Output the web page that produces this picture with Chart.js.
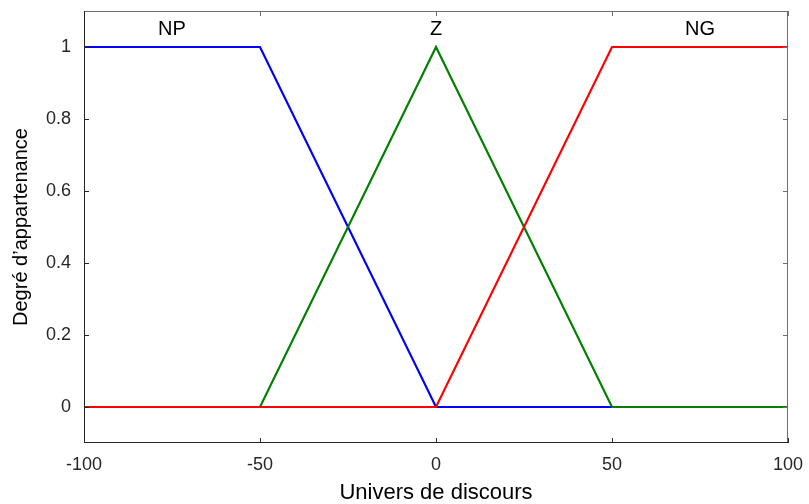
<!DOCTYPE html>
<html>
<head>
<meta charset="utf-8">
<script src="https://cdn.jsdelivr.net/npm/chart.js@4.4.1/dist/chart.umd.min.js"></script>
<style>
  html, body { margin: 0; padding: 0; background: #ffffff; }
  #wrap { width: 809px; height: 504px; }
</style>
</head>
<body>
<div id="wrap"><canvas id="c" width="809" height="504"></canvas></div>
<script>
// Membership functions of the three fuzzy sets (breakpoints)
const npX = [-100, -50, 0, 100];
const npY = [1, 1, 0, 0];
const zX = [-100, -50, 0, 50, 100];
const zY = [0, 0, 1, 0, 0];
const ngX = [-100, 0, 50, 100];
const ngY = [0, 0, 1, 1];

const setNames = ['NP', 'Z', 'NG'];
const setLabelX = [-75, 0, 75];
const setLabelY = 1.05;

const xTicks = [-100, -50, 0, 50, 100];
const yTicks = [0, 0.2, 0.4, 0.6, 0.8, 1];

const xTitle = 'Univers de discours';
const yTitle = 'Degré d\u2019appartenance';

const pts = (xs, ys) => xs.map((x, i) => ({ x: x, y: ys[i] }));

const FONT = '"Liberation Sans", Arial, sans-serif';
const AXIS = '#262626';

// Frame with inward ticks on all four sides, set names and axis titles
const framePlugin = {
  id: 'frame',
  afterDraw(chart) {
    const { ctx, chartArea: a, scales } = chart;
    const xs = scales.x, ys = scales.y;
    const L = 5;
    ctx.save();
    ctx.lineWidth = 1;
    // top and right edges
    ctx.strokeStyle = '#6e6e6e';
    ctx.beginPath();
    ctx.moveTo(a.left, a.top + 0.5); ctx.lineTo(a.right, a.top + 0.5);
    ctx.moveTo(a.right - 0.5, a.top); ctx.lineTo(a.right - 0.5, a.bottom);
    xTicks.forEach(v => {
      const px = Math.round(xs.getPixelForValue(v)) + 0.5;
      ctx.moveTo(px, a.top); ctx.lineTo(px, a.top + L);
    });
    yTicks.forEach(v => {
      const py = Math.round(ys.getPixelForValue(v)) + 0.5;
      ctx.moveTo(a.right, py); ctx.lineTo(a.right - L, py);
    });
    ctx.stroke();
    // left and bottom edges
    ctx.strokeStyle = AXIS;
    ctx.beginPath();
    ctx.moveTo(a.left + 0.5, a.top); ctx.lineTo(a.left + 0.5, a.bottom);
    ctx.moveTo(a.left, a.bottom - 0.5); ctx.lineTo(a.right, a.bottom - 0.5);
    xTicks.forEach(v => {
      const px = Math.round(xs.getPixelForValue(v)) + 0.5;
      ctx.moveTo(px, a.bottom); ctx.lineTo(px, a.bottom - L);
    });
    yTicks.forEach(v => {
      const py = Math.round(ys.getPixelForValue(v)) + 0.5;
      ctx.moveTo(a.left, py); ctx.lineTo(a.left + L, py);
    });
    ctx.stroke();
    // set names
    ctx.fillStyle = '#000000';
    ctx.font = '20px ' + FONT;
    ctx.textAlign = 'center';
    ctx.textBaseline = 'middle';
    setNames.forEach((n, i) => {
      ctx.fillText(n, xs.getPixelForValue(setLabelX[i]), ys.getPixelForValue(setLabelY));
    });
    // axis titles
    ctx.font = '22px ' + FONT;
    ctx.textBaseline = 'alphabetic';
    ctx.fillText(xTitle, (a.left + a.right) / 2, 499);
    ctx.font = '20px ' + FONT;
    ctx.translate(27, (a.top + a.bottom) / 2);
    ctx.rotate(-Math.PI / 2);
    ctx.fillText(yTitle, 0, 0);
    ctx.restore();
  }
};

new Chart(document.getElementById('c'), {
  type: 'line',
  data: {
    datasets: [
      // red drawn on top, then green, then blue underneath
      { label: 'NP', data: pts(npX, npY), borderColor: '#0000ff', borderWidth: 2.2, order: 2 },
      { label: 'Z', data: pts(zX, zY), borderColor: '#008000', borderWidth: 2.2, order: 1 },
      { label: 'NG', data: pts(ngX, ngY), borderColor: '#ff0000', borderWidth: 2.2, order: 0 }
    ]
  },
  options: {
    responsive: false,
    animation: false,
    devicePixelRatio: 1,
    layout: { padding: { top: 11, right: 21, left: 0, bottom: 0 } },
    elements: { point: { radius: 0 }, line: { tension: 0, fill: false } },
    plugins: { legend: { display: false }, tooltip: { enabled: false } },
    scales: {
      x: {
        type: 'linear',
        min: -100, max: 100,
        grid: { display: false, drawTicks: false },
        border: { display: false },
        afterBuildTicks: s => { s.ticks = xTicks.map(v => ({ value: v })); },
        afterFit: s => { s.height = 61; s.paddingLeft = 0; s.paddingRight = 0; },
        ticks: { color: AXIS, padding: 11, font: { family: FONT, size: 18 }, maxRotation: 0,
                 callback: v => String(v) }
      },
      y: {
        type: 'linear',
        min: -0.1, max: 1.1,
        grid: { display: false, drawTicks: false },
        border: { display: false },
        afterBuildTicks: s => { s.ticks = yTicks.map(v => ({ value: v })); },
        afterFit: s => { s.width = 84; s.paddingTop = 0; s.paddingBottom = 0; },
        ticks: { color: AXIS, padding: 13, font: { family: FONT, size: 18 },
                 callback: v => String(Math.round(v * 10) / 10) }
      }
    }
  },
  plugins: [framePlugin]
});
</script>
</body>
</html>
